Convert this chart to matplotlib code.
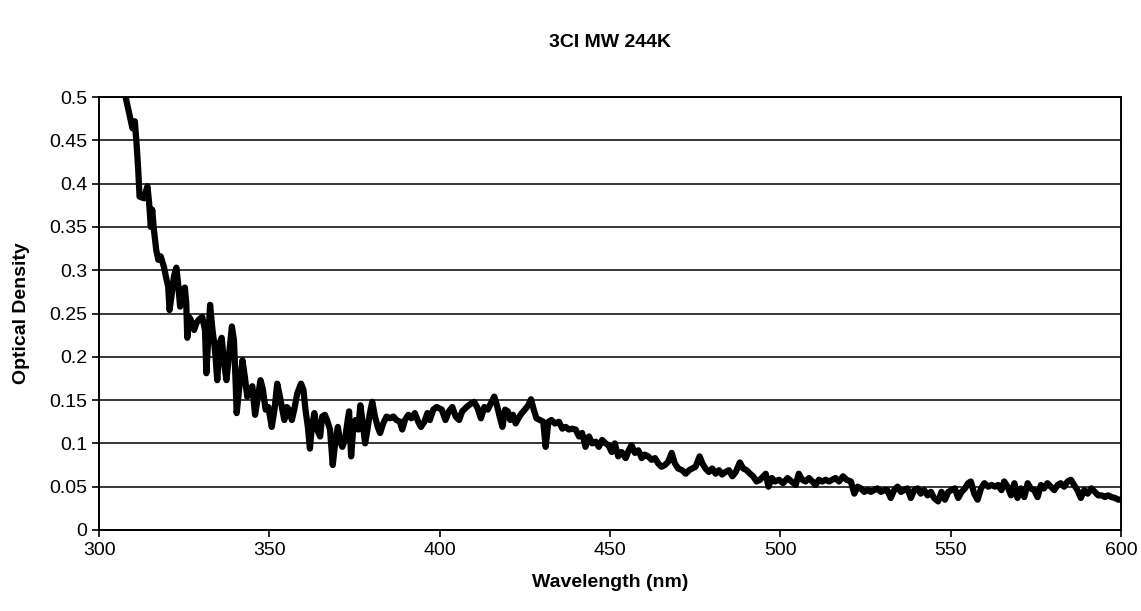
import matplotlib.pyplot as plt

# --- DATA ---
wavelength = [
    307.8, 308.8, 309.8, 310.5, 311.0, 311.5, 311.9, 313.2, 314.2, 314.7,
    315.2, 315.6, 316.1, 316.8, 317.4, 318.1, 319.1, 319.6, 320.3, 320.7,
    321.5, 322.0, 322.7, 323.2, 323.8, 324.4, 325.2, 325.6, 325.9, 326.4,
    326.9, 327.9, 328.6, 329.3, 330.3, 331.1, 331.5, 332.1, 332.6, 333.3,
    333.8, 334.2, 334.7, 335.4, 336.0, 336.7, 337.4, 338.2, 339.0, 339.6,
    340.1, 340.4, 341.1, 342.1, 342.8, 343.5, 344.2, 345.0, 345.8, 346.5,
    347.4, 348.1, 348.9, 349.7, 350.7, 351.5, 352.3, 353.1, 353.8, 354.4,
    355.1, 355.8, 356.6, 357.3, 358.2, 359.3, 360.0, 360.6, 361.3, 361.9,
    362.4, 363.2, 363.9, 364.9, 365.5, 366.3, 367.1, 367.8, 368.6, 369.3,
    370.1, 370.7, 371.4, 372.2, 372.7, 373.4, 374.0, 374.6, 375.3, 376.1,
    376.7, 377.3, 378.1, 378.8, 379.5, 380.2, 381.0, 381.8, 382.5, 383.4,
    384.4, 385.4, 386.4, 387.3, 388.3, 389.0, 389.8, 390.8, 391.7, 392.7,
    393.7, 394.5, 395.5, 396.4, 397.1, 398.1, 399.1, 400.6, 401.7, 402.7,
    403.7, 404.7, 405.7, 406.6, 407.9, 409.2, 410.1, 411.1, 412.1, 413.1,
    414.1, 415.0, 416.0, 416.8, 417.6, 418.4, 419.2, 420.0, 420.7, 421.5,
    422.3, 423.1, 424.1, 425.0, 426.0, 426.8, 427.6, 428.4, 429.4, 430.4,
    431.1, 431.9, 432.8, 433.8, 435.0, 436.0, 437.0, 437.9, 438.9, 439.9,
    440.9, 441.8, 442.8, 443.8, 444.8, 445.8, 446.7, 447.7, 448.7, 449.5,
    450.5, 451.4, 452.4, 453.4, 454.6, 455.5, 456.3, 457.3, 458.3, 459.3,
    460.2, 461.2, 462.2, 463.2, 464.1, 465.1, 466.1, 467.1, 468.1, 469.0,
    470.0, 471.2, 472.2, 473.2, 474.1, 475.1, 476.3, 477.1, 478.0, 479.0,
    480.0, 481.0, 482.0, 482.9, 483.9, 484.9, 485.9, 486.9, 488.1, 489.1,
    490.1, 491.1, 492.0, 493.0, 494.0, 495.0, 495.7, 496.5, 497.5, 498.4,
    499.6, 500.8, 502.1, 503.3, 504.5, 505.4, 506.4, 507.4, 508.4, 509.4,
    510.3, 511.3, 512.3, 513.3, 514.3, 515.2, 516.2, 517.2, 518.4, 519.4,
    520.7, 521.7, 522.7, 523.6, 524.6, 525.6, 526.6, 527.5, 528.5, 529.5,
    530.5, 531.4, 532.4, 533.4, 534.4, 535.4, 536.3, 537.3, 538.3, 539.3,
    540.3, 541.2, 542.2, 543.2, 544.2, 545.1, 546.3, 547.3, 548.3, 549.3,
    550.2, 551.2, 552.2, 553.2, 554.2, 555.1, 555.9, 556.9, 557.9, 558.9,
    559.9, 561.0, 562.0, 563.0, 563.9, 564.9, 565.7, 566.7, 567.7, 568.7,
    569.6, 570.6, 571.6, 572.6, 573.5, 574.5, 575.5, 576.5, 577.4, 578.4,
    579.4, 580.4, 581.4, 582.3, 583.3, 584.3, 585.3, 586.2, 587.2, 588.2,
    589.2, 590.2, 591.3, 592.3, 593.3, 594.3, 595.3, 596.2, 597.2, 598.2,
    599.2, 600.0,
]
optical_density = [
    0.500, 0.482, 0.464, 0.472, 0.447, 0.416, 0.385, 0.383, 0.397, 0.378,
    0.350, 0.370, 0.347, 0.323, 0.312, 0.316, 0.303, 0.293, 0.281, 0.254,
    0.277, 0.293, 0.303, 0.285, 0.258, 0.277, 0.280, 0.262, 0.222, 0.246,
    0.243, 0.231, 0.239, 0.243, 0.246, 0.231, 0.181, 0.223, 0.260, 0.231,
    0.216, 0.200, 0.173, 0.216, 0.222, 0.193, 0.173, 0.204, 0.235, 0.219,
    0.170, 0.135, 0.162, 0.196, 0.177, 0.154, 0.162, 0.166, 0.133, 0.150,
    0.173, 0.162, 0.139, 0.142, 0.119, 0.139, 0.169, 0.154, 0.139, 0.127,
    0.142, 0.139, 0.127, 0.139, 0.158, 0.169, 0.162, 0.139, 0.119, 0.094,
    0.116, 0.135, 0.117, 0.108, 0.131, 0.133, 0.125, 0.116, 0.075, 0.100,
    0.119, 0.104, 0.096, 0.104, 0.119, 0.137, 0.085, 0.116, 0.127, 0.116,
    0.144, 0.127, 0.100, 0.116, 0.135, 0.148, 0.131, 0.119, 0.112, 0.123,
    0.131, 0.129, 0.131, 0.127, 0.125, 0.116, 0.127, 0.133, 0.129, 0.135,
    0.125, 0.119, 0.125, 0.135, 0.127, 0.139, 0.142, 0.139, 0.127, 0.137,
    0.142, 0.131, 0.127, 0.137, 0.142, 0.146, 0.148, 0.141, 0.129, 0.142,
    0.139, 0.146, 0.154, 0.144, 0.131, 0.119, 0.139, 0.137, 0.127, 0.133,
    0.123, 0.129, 0.135, 0.139, 0.144, 0.151, 0.139, 0.129, 0.127, 0.125,
    0.096, 0.125, 0.127, 0.123, 0.125, 0.117, 0.119, 0.116, 0.117, 0.116,
    0.108, 0.112, 0.096, 0.108, 0.100, 0.102, 0.096, 0.104, 0.100, 0.098,
    0.090, 0.100, 0.085, 0.090, 0.083, 0.092, 0.098, 0.089, 0.092, 0.083,
    0.087, 0.085, 0.081, 0.083, 0.077, 0.073, 0.075, 0.079, 0.089, 0.077,
    0.071, 0.069, 0.065, 0.069, 0.071, 0.073, 0.085, 0.077, 0.071, 0.067,
    0.071, 0.065, 0.069, 0.064, 0.067, 0.069, 0.062, 0.067, 0.078, 0.071,
    0.069, 0.065, 0.062, 0.056, 0.058, 0.062, 0.065, 0.050, 0.060, 0.056,
    0.058, 0.054, 0.060, 0.056, 0.052, 0.065, 0.058, 0.056, 0.060, 0.056,
    0.052, 0.058, 0.056, 0.058, 0.056, 0.058, 0.060, 0.056, 0.062, 0.058,
    0.056, 0.042, 0.050, 0.048, 0.044, 0.046, 0.044, 0.046, 0.048, 0.044,
    0.046, 0.046, 0.037, 0.046, 0.050, 0.044, 0.046, 0.048, 0.037, 0.046,
    0.048, 0.042, 0.046, 0.040, 0.044, 0.037, 0.033, 0.044, 0.035, 0.044,
    0.046, 0.048, 0.037, 0.044, 0.048, 0.054, 0.056, 0.042, 0.035, 0.048,
    0.054, 0.050, 0.052, 0.050, 0.052, 0.046, 0.056, 0.050, 0.040, 0.054,
    0.037, 0.048, 0.038, 0.054, 0.048, 0.046, 0.038, 0.052, 0.048, 0.054,
    0.050, 0.046, 0.052, 0.054, 0.050, 0.056, 0.058, 0.052, 0.046, 0.037,
    0.046, 0.042, 0.048, 0.044, 0.040, 0.040, 0.038, 0.040, 0.038, 0.037,
    0.035, 0.035,
]
x_ticks = [300, 350, 400, 450, 500, 550, 600]
y_ticks = [0, 0.05, 0.1, 0.15, 0.2, 0.25, 0.3, 0.35, 0.4, 0.45, 0.5]
y_tick_labels = ["0", "0.05", "0.1", "0.15", "0.2", "0.25", "0.3", "0.35", "0.4", "0.45", "0.5"]

plt.rcParams['font.family'] = ['Liberation Sans', 'DejaVu Sans']

fig = plt.figure(figsize=(11.41, 6.11), dpi=100)
ax = fig.add_axes([0.0868, 0.1326, 0.8957, 0.7086])

ax.plot(wavelength, optical_density, color='black', linewidth=4.5,
        solid_joinstyle='round', solid_capstyle='round')

ax.set_xlim(300, 600)
ax.set_ylim(0, 0.5)
ax.set_xticks(x_ticks)
ax.set_yticks(y_ticks)
ax.set_yticklabels(y_tick_labels)
ax.yaxis.grid(True, color='black', linewidth=1.1)
ax.set_axisbelow(True)
ax.tick_params(axis='both', direction='out', length=5, width=1.2,
               labelsize=14, colors='black')
for spine in ax.spines.values():
    spine.set_color('black')
    spine.set_linewidth(1.4)

ax.set_title("3CI MW 244K", fontsize=14, fontweight='bold', pad=36)
ax.set_xlabel("Wavelength (nm)", fontsize=14, fontweight='bold', labelpad=11)
ax.set_ylabel("Optical Density", fontsize=14, fontweight='bold', labelpad=14)

fig.savefig("out.png", dpi=100)
